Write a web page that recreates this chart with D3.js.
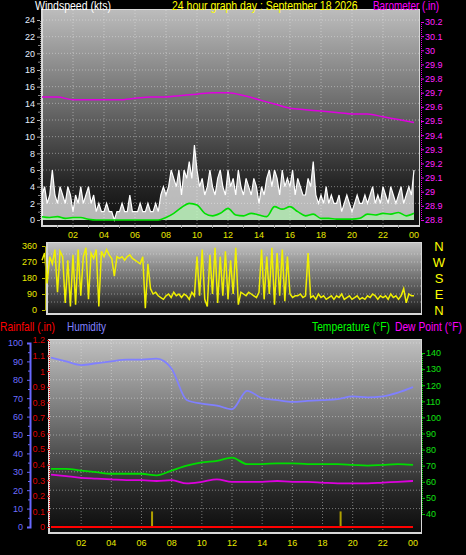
<!DOCTYPE html>
<html><head><meta charset="utf-8">
<script src="https://cdn.jsdelivr.net/npm/d3@7"></script>
<style>body{margin:0;background:#000;} svg{display:block;font-family:"Liberation Sans",Arial,sans-serif;}</style>
</head><body><svg id="c" width="466" height="555"></svg>
<script>
// ---------------- DATA ----------------
const hourTicks = [2,4,6,8,10,12,14,16,18,20,22,24];
const hourLabels = ["02","04","06","08","10","12","14","16","18","20","22","00"];
// wind gust (kts), every 10 minutes from 00:00 to 24:00
const windGust = [
 3,4,2,3,6,3, 2,4,3,2,4,3, 1,3,2,4,2,3, 4,2,3,1,2,1,
 1,2,1,1,0,1, 1,2,1,1,3,1, 1,1,2,1,1,2, 1,1,2,1,3,4,
 3,4,6,5,4,6, 3,6,5,7,5,9, 6,4,5,3,4,6, 4,3,5,6,4,3,
 6,4,5,3,6,4, 3,5,4,3,5,4, 2,4,3,5,6,4, 6,5,3,6,4,5,
 4,6,3,5,4,3, 3,5,4,7,3,2, 3,2,4,2,3,2, 2,3,1,2,3,2,
 1,2,3,2,2,3, 2,3,4,2,3,2, 4,3,2,4,3,2, 3,4,2,3,4,3, 6];
// average wind (kts), every 30 minutes
const windAvg = [0.4,0.3,0.4,0.2,0.3,0.3,0.1,0,0,0,0,0,0,0,0,0,0.3,0.8,1.5,2.0,1.8,0.8,0.5,0.8,
 1.4,0.6,0.5,0.8,0.6,0.4,1.6,1.3,1.6,1.0,0.5,0.7,0.2,0.2,0.1,0.1,0.1,0.2,0.7,0.6,0.8,0.7,0.9,0.5,0.8];
// barometer (in), hourly
const baro = [29.67,29.67,29.65,29.65,29.65,29.65,29.66,29.67,29.67,29.68,29.69,29.70,29.70,29.68,29.65,29.62,29.59,29.58,29.57,29.56,29.55,29.55,29.53,29.51,29.49];
// wind direction (deg), every 10 minutes
const windDir = [
 280,320,150,300,260,340, 100,330,300,40,280,20, 310,30,340,80,300,350, 60,320,290,340,20,330,
 300,340,310,290,190,300, 290,300,280,300,310,290, 280,270,260,300,10,260, 120,90,100,80,70,60,
 80,90,70,100,80,90, 70,90,80,60,100,80, 300,80,340,60,20,310, 90,350,40,300,80,330,
 60,280,90,350,30,100, 90,80,100,90,80,70, 100,340,60,300,90,350, 30,320,80,340,50,300,
 90,70,80,80,90,70, 80,320,70,80,60,90, 70,80,60,70,80,60, 80,70,90,60,70,80,
 60,70,80,60,70,60, 80,70,90,80,60,80, 70,80,60,90,70,80, 60,80,120,40,90,80, 80];
// humidity (%), hourly
const humidity = [92,90,88,89,90,91,91,91.5,86,69,67,66,64,74,70,69,68,68.5,69,69.5,71,70.5,71,73,76];
// temperature (F), hourly
const temperature = [68,68,67,66,65,65,65,64,67,70,72,73,75,71,71,71.5,71.5,71,71,71,70.5,70,70.5,71,70.5];
// dew point (F), hourly
const dewPoint = [64.5,63.5,62.5,62,61.5,61,61,60.5,61,59,60,61.5,60,60,60,60.5,60,60,59.5,59,59,59,59.5,60,60.5];
// rainfall (in) total, hourly
const rainfall = [0,0,0,0,0,0,0,0,0,0,0,0,0,0,0,0,0,0,0,0,0,0,0,0,0];
// rain events: hour and amount (in)
const rainHours = [6.7, 19.2];
const rainAmounts = [0.1, 0.1];

const windTicks = d3.range(0,25,2);
const baroTicks = d3.range(28.8,30.21,0.1).map(v=>+v.toFixed(1));
const dirTicks = [0,90,180,270,360];
const dirLetters = ["N","W","S","E","N"];
const humTicks = d3.range(0,101,10);
const rainTicks = d3.range(0,1.21,0.1).map(v=>+v.toFixed(1));
const tempTicks = d3.range(40,141,10);

// ---------------- DRAW ----------------
const svg = d3.select("#c");
const defs = svg.append("defs");
function grad(id, stops){
  const g = defs.append("linearGradient").attr("id",id).attr("x1",0).attr("x2",0).attr("y1",0).attr("y2",1);
  stops.forEach(s=>g.append("stop").attr("offset",s[0]).attr("stop-color",s[1]));
}
grad("gw",[[0,"#bcbcbc"],[0.45,"#6a6a6a"],[0.8,"#262626"],[1,"#0e0e0e"]]);
grad("gd",[[0,"#c4c4c4"],[0.5,"#707070"],[1,"#1a1a1a"]]);
grad("gb",[[0,"#c0c0c0"],[0.45,"#6c6c6c"],[0.8,"#262626"],[1,"#0c0c0c"]]);

const fmt1 = d => (+d.toFixed(1)).toString();
const gridCol = "rgba(235,235,235,0.45)";

function panel(x0,y0,x1,y1,fill){
  svg.append("rect").attr("x",x0-2).attr("y",y0-1).attr("width",x1-x0+3).attr("height",y1-y0+3).attr("fill","#d8d8d8");
  svg.append("rect").attr("x",x0).attr("y",y0).attr("width",x1-x0).attr("height",y1-y0).attr("fill",`url(#${fill})`);
}
// fit text horizontally to the width it has in the reference
function label(x,y,txt,col,len){
  const t = svg.append("text").attr("x",0).attr("y",0).attr("font-size",12).attr("fill",col).text(txt);
  const w = t.node().getComputedTextLength();
  t.attr("transform",`translate(${x},${y}) scale(${(len/w).toFixed(3)},1)`);
}

// ===== Wind panel =====
const W = {x0:43,x1:419,y0:10,y1:225};
const xTop = d3.scaleLinear().domain([0,24]).range([42,414]);
const yWind = d3.scaleLinear().domain([0,24]).range([220,20]);
const yBaro = d3.scaleLinear().domain([28.8,30.2]).range([220,22]);
panel(W.x0,W.y0,W.x1,W.y1,"gw");
const gw = svg.append("g");
gw.selectAll(".hg").data(windTicks.slice(1)).join("line")
  .attr("x1",W.x0).attr("x2",W.x1).attr("y1",d=>yWind(d)).attr("y2",d=>yWind(d))
  .attr("stroke",gridCol).attr("stroke-dasharray","1,2");
gw.selectAll(".vg").data(hourTicks.slice(0,-1)).join("line")
  .attr("x1",d=>xTop(d)).attr("x2",d=>xTop(d)).attr("y1",W.y0).attr("y2",W.y1)
  .attr("stroke",gridCol).attr("stroke-dasharray","1,2");
const gustX = (d,i)=>xTop(i/6);
gw.append("path").datum(windGust)
  .attr("d",d3.area().x(gustX).y0(yWind(0)).y1(d=>yWind(d)))
  .attr("fill","rgba(255,255,255,0.7)");
gw.append("path").datum(windGust)
  .attr("d",d3.line().x(gustX).y(d=>yWind(d)))
  .attr("fill","none").attr("stroke","#ffffff").attr("stroke-width",1.2);
const avgX = (d,i)=>xTop(i/2);
gw.append("path").datum(windAvg)
  .attr("d",d3.area().x(avgX).y0(yWind(0)).y1(d=>yWind(d)).curve(d3.curveMonotoneX))
  .attr("fill","rgba(170,255,170,0.55)");
gw.append("path").datum(windAvg)
  .attr("d",d3.line().x(avgX).y(d=>yWind(d)).curve(d3.curveMonotoneX))
  .attr("fill","none").attr("stroke","#00e000").attr("stroke-width",1.6);
gw.append("path").datum(baro)
  .attr("d",d3.line().x((d,i)=>xTop(i)).y(d=>yBaro(d)).curve(d3.curveMonotoneX))
  .attr("fill","none").attr("stroke","#e000e0").attr("stroke-width",1.5);
const axL = svg.append("g").attr("transform",`translate(40,0)`)
  .call(d3.axisLeft(yWind).tickValues(windTicks).tickSize(3).tickFormat(d3.format("d")));
axL.select(".domain").attr("stroke","#888").attr("stroke-dasharray","1,1");
axL.selectAll("line").attr("stroke","#aaa");
axL.selectAll("text").attr("fill","#e4eeff").attr("font-size",9).attr("x",-5);
const axLm = svg.append("g").attr("transform",`translate(40,0)`)
  .call(d3.axisLeft(yWind).tickValues(d3.range(1,24,2)).tickSize(2).tickFormat(""));
axLm.select(".domain").remove(); axLm.selectAll("line").attr("stroke","#888");
const axR = svg.append("g").attr("transform",`translate(421,0)`)
  .call(d3.axisRight(yBaro).tickValues(baroTicks).tickSize(3).tickFormat(fmt1));
axR.select(".domain").attr("stroke","#e000e0").attr("stroke-dasharray","1,1");
axR.selectAll("line").attr("stroke","#e000e0");
axR.selectAll("text").attr("fill","#ff22ff").attr("font-size",9).attr("x",4);
svg.append("g").selectAll("text").data(hourTicks).join("text")
  .attr("x",d=>xTop(d)).attr("y",238).attr("text-anchor","middle")
  .attr("font-size",9).attr("fill","#e8e800").text((d,i)=>hourLabels[i]);
svg.append("g").selectAll("line").data(d3.range(1,24,1)).join("line")
  .attr("x1",d=>xTop(d)).attr("x2",d=>xTop(d)).attr("y1",225).attr("y2",228).attr("stroke","#999");

label(35,10,"Windspeed (kts)","#ffffff",76);
label(172,10,"24 hour graph day : September 18 2026","#ffff00",186);
label(373,10,"Barometer (.in)","#ff00ff",66);

// ===== Direction panel =====
const D = {x0:48,x1:421,y0:243,y1:313};
const yDir = d3.scaleLinear().domain([0,360]).range([310,246]);
panel(D.x0,D.y0,D.x1,D.y1,"gd");
const gd = svg.append("g");
gd.selectAll(".hg").data([45,90,135,180,225,270,315]).join("line")
  .attr("x1",D.x0).attr("x2",D.x1).attr("y1",d=>yDir(d)).attr("y2",d=>yDir(d))
  .attr("stroke",gridCol).attr("stroke-dasharray","1,2");
gd.append("path").datum(windDir)
  .attr("d",d3.line().x((d,i)=>xTop(i/6)).y(d=>yDir(d)))
  .attr("fill","none").attr("stroke","#f0f000").attr("stroke-width",1.5);
const axD = svg.append("g").attr("transform",`translate(45,0)`)
  .call(d3.axisLeft(yDir).tickValues(dirTicks).tickSize(3).tickFormat(d3.format("d")));
axD.select(".domain").attr("stroke","#a0a000");
axD.selectAll("line").attr("stroke","#c0c000");
axD.selectAll("text").attr("fill","#e8e800").attr("font-size",9).attr("x",-8);
svg.append("g").selectAll("text").data(dirTicks).join("text")
  .attr("x",439).attr("y",d=>yDir(360-d)+5).attr("text-anchor","middle")
  .attr("font-size",13).attr("fill","#ffff00").text((d,i)=>dirLetters[i]);

// ===== Bottom panel =====
const B = {x0:50,x1:421,y0:340,y1:532};
const xBot = d3.scaleLinear().domain([0,24]).range([51,413]);
const yHum = d3.scaleLinear().domain([0,100]).range([527,343]);
const yRain = d3.scaleLinear().domain([0,1.2]).range([527,340]);
const yTemp = d3.scaleLinear().domain([40,140]).range([514,353]);
panel(B.x0,B.y0,B.x1,B.y1,"gb");
const gb = svg.append("g");
gb.selectAll(".hg").data(d3.range(10,101,10)).join("line")
  .attr("x1",B.x0).attr("x2",B.x1).attr("y1",d=>yHum(d)).attr("y2",d=>yHum(d))
  .attr("stroke",gridCol).attr("stroke-dasharray","1,2");
gb.selectAll(".vg").data(hourTicks.slice(0,-1)).join("line")
  .attr("x1",d=>xBot(d)).attr("x2",d=>xBot(d)).attr("y1",B.y0).attr("y2",B.y1)
  .attr("stroke",gridCol).attr("stroke-dasharray","1,2");
gb.selectAll(".rb").data(rainHours).join("line")
  .attr("x1",d=>xBot(d)).attr("x2",d=>xBot(d)).attr("y1",(d,i)=>yRain(rainAmounts[i])).attr("y2",yRain(0))
  .attr("stroke","#b0a000").attr("stroke-width",2);
const lineH = arr => d3.line().x((d,i)=>xBot(i)).y(d=>arr(d)).curve(d3.curveMonotoneX);
gb.append("path").datum(humidity).attr("d",lineH(yHum)).attr("fill","none").attr("stroke","#8080ff").attr("stroke-width",1.8);
gb.append("path").datum(temperature).attr("d",lineH(yTemp)).attr("fill","none").attr("stroke","#00dd00").attr("stroke-width",1.8);
gb.append("path").datum(dewPoint).attr("d",lineH(yTemp)).attr("fill","none").attr("stroke","#dd00dd").attr("stroke-width",1.8);
gb.append("path").datum(rainfall).attr("d",lineH(yRain)).attr("fill","none").attr("stroke","#ff0000").attr("stroke-width",2);
const axH = svg.append("g").attr("transform",`translate(30,0)`)
  .call(d3.axisLeft(yHum).tickValues(humTicks).tickSize(3).tickFormat(d3.format("d")));
axH.select(".domain").attr("stroke","#6868ff").attr("stroke-width",2);
axH.selectAll("line").attr("stroke","#6868ff");
axH.selectAll("text").attr("fill","#6f6fff").attr("font-size",9).attr("x",-7);
const axHm = svg.append("g").attr("transform",`translate(30,0)`)
  .call(d3.axisLeft(yHum).tickValues(d3.range(5,100,5).filter(v=>v%10)).tickSize(2).tickFormat(""));
axHm.select(".domain").remove(); axHm.selectAll("line").attr("stroke","#6868ff");
const axRn = svg.append("g").attr("transform",`translate(49,0)`)
  .call(d3.axisLeft(yRain).tickValues(rainTicks).tickSize(2).tickFormat(fmt1));
axRn.select(".domain").attr("stroke","#d00000").attr("stroke-dasharray","1,1");
axRn.selectAll("line").attr("stroke","#d00000");
axRn.selectAll("text").attr("fill","#dd0000").attr("font-size",9).attr("x",-4);
const axT = svg.append("g").attr("transform",`translate(422,0)`)
  .call(d3.axisRight(yTemp).tickValues(tempTicks).tickSize(3).tickFormat(d3.format("d")));
axT.select(".domain").attr("stroke","#00c000").attr("stroke-dasharray","1,1");
axT.selectAll("line").attr("stroke","#00c000");
axT.selectAll("text").attr("fill","#10e010").attr("font-size",9).attr("x",4);
svg.append("g").selectAll("text").data(hourTicks).join("text")
  .attr("x",d=>xBot(d)).attr("y",546).attr("text-anchor","middle")
  .attr("font-size",9).attr("fill","#e8e800").text((d,i)=>hourLabels[i]);

label(0,331,"Rainfall (.in)","#ff0000",55);
label(67,331,"Humidity","#8080ff",39);
label(312,331,"Temperature (°F)","#00ff00",78);
label(395,331,"Dew Point (°F)","#ff00ff",67);
</script></body></html>
